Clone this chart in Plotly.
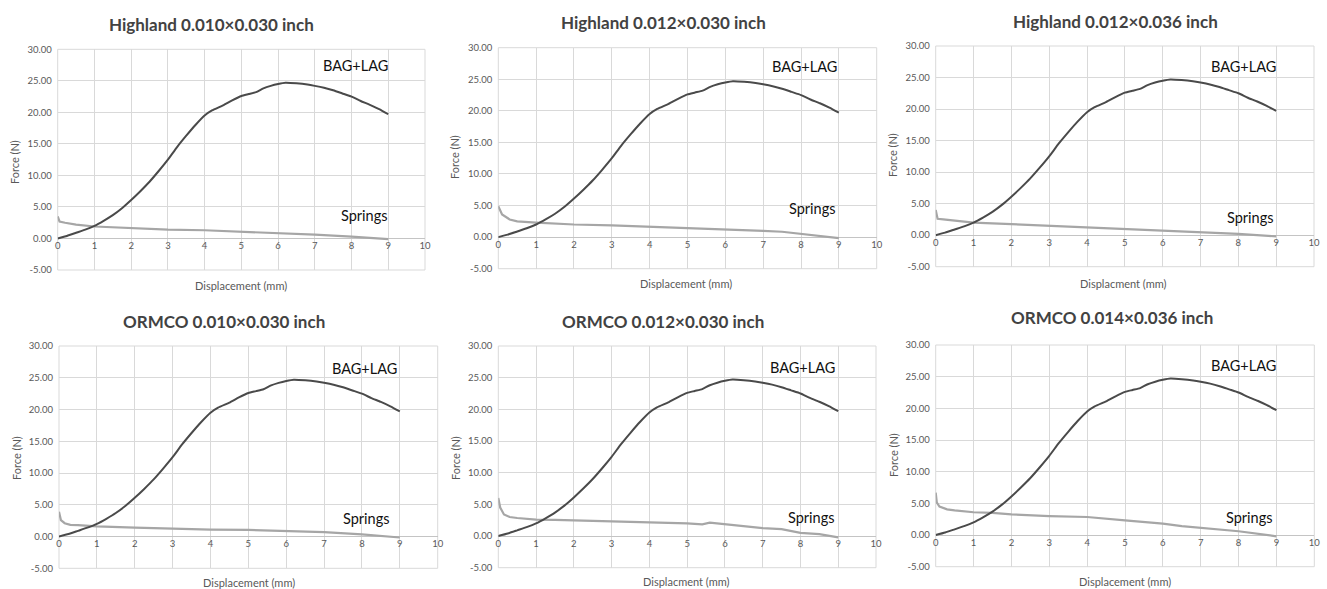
import plotly.graph_objects as go

W, H = 1327, 589

# ---------------- data ----------------
titles = [
    "Highland 0.010×0.030 inch",
    "Highland 0.012×0.030 inch",
    "Highland 0.012×0.036 inch",
    "ORMCO 0.010×0.030 inch",
    "ORMCO 0.012×0.030 inch",
    "ORMCO 0.014×0.036 inch",
]
x_titles = [
    "Displacement (mm)", "Displacement (mm)", "Displacment (mm)",
    "Displacement (mm)", "Displacment (mm)", "Displacement (mm)",
]

bag_x = [0, 0.25, 0.5, 0.75, 1, 1.25, 1.5, 1.75, 2, 2.25, 2.5, 2.75, 3, 3.25, 3.5, 3.75,
         4, 4.2, 4.5, 4.75, 5, 5.2, 5.4, 5.6, 5.8, 6, 6.2, 6.5, 6.8, 7, 7.25, 7.5, 7.75,
         8, 8.25, 8.5, 8.75, 9]
bag_y = [0, 0.4, 0.9, 1.4, 2.0, 2.8, 3.7, 4.8, 6.1, 7.5, 9.0, 10.7, 12.5, 14.5, 16.3, 18.0,
         19.5, 20.3, 21.1, 21.9, 22.6, 22.9, 23.2, 23.8, 24.2, 24.5, 24.7, 24.6, 24.4, 24.2,
         23.9, 23.5, 23.0, 22.5, 21.8, 21.2, 20.5, 19.7]

spr_x = [
    [0, 0.05, 0.2, 0.5, 1, 2, 3, 4, 5, 6, 7, 8, 9],
    [0, 0.1, 0.3, 0.5, 1, 2, 3, 4, 5, 6, 7, 7.5, 8, 8.5, 9],
    [0, 0.05, 0.2, 0.5, 1, 2, 3, 4, 5, 6, 7, 8, 9],
    [0, 0.05, 0.15, 0.3, 0.5, 1, 2, 3, 4, 5, 6, 7, 8, 9],
    [0, 0.05, 0.15, 0.3, 0.5, 1, 1.5, 2, 3, 4, 5, 5.4, 5.6, 6, 6.5, 7, 7.5, 8, 8.5, 9],
    [0, 0.03, 0.1, 0.3, 0.5, 1, 1.5, 2, 3, 4, 5, 5.5, 6, 6.5, 7, 8, 9],
]
spr_y = [
    [3.5, 2.7, 2.5, 2.2, 1.9, 1.6, 1.4, 1.3, 1.1, 0.85, 0.6, 0.3, -0.1],
    [4.9, 3.6, 2.8, 2.5, 2.3, 2.0, 1.85, 1.65, 1.5, 1.3, 1.0, 0.85, 0.5, 0.25, -0.15],
    [4.0, 2.6, 2.5, 2.3, 2.0, 1.75, 1.5, 1.2, 1.0, 0.8, 0.5, 0.2, -0.2],
    [3.9, 2.6, 2.1, 1.85, 1.8, 1.6, 1.4, 1.2, 1.1, 1.05, 0.9, 0.7, 0.35, -0.15],
    [6.0, 4.5, 3.4, 3.0, 2.85, 2.6, 2.55, 2.45, 2.25, 2.15, 2.0, 1.85, 2.1, 1.85, 1.55,
     1.25, 1.1, 0.5, 0.3, -0.2],
    [6.7, 5.1, 4.5, 4.05, 3.9, 3.6, 3.5, 3.25, 3.0, 2.85, 2.3, 2.1, 1.8, 1.4, 1.15, 0.6, -0.2],
]

y_tickvals = [-5, 0, 5, 10, 15, 20, 25, 30]
y_ticktext = ["-5.00", "0.00", "5.00", "10.00", "15.00", "20.00", "25.00", "30.00"]
x_tickvals = list(range(0, 11))

# ---------------- layout geometry (pixels) ----------------
boxes = [
    (57.7, 425.0, 49.3, 270.0),
    (498.3, 876.7, 47.7, 268.7),
    (935.7, 1314.0, 46.0, 266.7),
    (59.0, 437.7, 346.0, 568.3),
    (498.3, 876.0, 346.0, 567.7),
    (935.7, 1314.3, 345.0, 566.7),
]
title_pos = [(212, 25), (663, 22.7), (1115, 21.7), (224, 321.7), (663, 321.7), (1112, 317.3)]
xt_pos = [(241, 285), (686, 283), (1123, 283), (249, 582), (686, 581.5), (1124.5, 581.5)]
yt_pos = [(15, 162), (455, 157), (893, 155), (16, 458), (455, 458), (893, 455)]
bag_lbl = [(8.1, 27.4), (8.1, 27.0), (8.13, 26.7), (8.08, 26.4), (8.06, 26.6), (8.12, 26.7)]
spr_lbl = [(8.35, 3.6), (8.3, 4.5), (8.33, 2.8), (8.12, 2.9), (8.28, 2.9), (8.28, 2.7)]

FONT = "Lato"
GRID = "#d9d9d9"
TICKC = "#595959"

fig = go.Figure()
annotations = []
shapes = []
for i in range(6):
    n = "" if i == 0 else str(i + 1)
    xa, ya = "x" + n, "y" + n
    L, R, T, B = boxes[i]
    xd = [L / W, R / W]
    yd = [1 - B / H, 1 - T / H]
    y0_paper = yd[0] + (0 - (-5)) / 35 * (yd[1] - yd[0])

    fig.add_trace(go.Scatter(x=spr_x[i], y=spr_y[i], mode="lines",
                             line=dict(color="#a6a6a6", width=2.2),
                             xaxis=xa, yaxis=ya, showlegend=False))
    fig.add_trace(go.Scatter(x=bag_x, y=bag_y, mode="lines",
                             line=dict(color="#4a4a4a", width=2, shape="spline", smoothing=0.5),
                             xaxis=xa, yaxis=ya, showlegend=False))

    fig.layout["xaxis" + n] = dict(
        domain=xd, range=[0, 10], tickvals=x_tickvals, anchor="free", position=y0_paper,
        showgrid=True, gridcolor=GRID, gridwidth=1, zeroline=False, showline=False,
        ticks="", tickfont=dict(family=FONT, size=9.5, color=TICKC),
        automargin=False, fixedrange=True,
    )
    fig.layout["yaxis" + n] = dict(
        domain=yd, range=[-5, 30], tickvals=y_tickvals, ticktext=y_ticktext,
        anchor=xa, showgrid=True, gridcolor=GRID, gridwidth=1,
        zeroline=True, zerolinecolor="#c4c4c4", zerolinewidth=1.2, showline=False,
        ticks="", ticklabelstandoff=5, tickfont=dict(family=FONT, size=9.5, color=TICKC),
        automargin=False, fixedrange=True,
    )
    shapes.append(dict(type="rect", xref=xa + " domain", yref=ya + " domain",
                       x0=0, x1=1, y0=0, y1=1, line=dict(color=GRID, width=1),
                       layer="below"))

    tx, ty = title_pos[i]
    annotations.append(dict(text="<b>" + titles[i] + "</b>", xref="paper", yref="paper",
                            x=tx / W, y=1 - ty / H, xanchor="center", yanchor="middle",
                            showarrow=False, font=dict(family=FONT, size=17, color="#424242")))
    ax_, ay_ = xt_pos[i]
    annotations.append(dict(text=x_titles[i], xref="paper", yref="paper",
                            x=ax_ / W, y=1 - ay_ / H, xanchor="center", yanchor="middle",
                            showarrow=False, font=dict(family=FONT, size=11, color=TICKC)))
    fx, fy = yt_pos[i]
    annotations.append(dict(text="Force (N)", xref="paper", yref="paper", textangle=-90,
                            x=fx / W, y=1 - fy / H, xanchor="center", yanchor="middle",
                            showarrow=False, font=dict(family=FONT, size=11, color=TICKC)))
    bx, by = bag_lbl[i]
    annotations.append(dict(text="BAG+LAG", xref=xa, yref=ya, x=bx, y=by,
                            xanchor="center", yanchor="middle", showarrow=False,
                            font=dict(family=FONT, size=14.5, color="#111111")))
    sx, sy = spr_lbl[i]
    annotations.append(dict(text="Springs", xref=xa, yref=ya, x=sx, y=sy,
                            xanchor="center", yanchor="middle", showarrow=False,
                            font=dict(family=FONT, size=14.5, color="#111111")))

fig.update_layout(
    width=W, height=H, margin=dict(l=0, r=0, t=0, b=0, autoexpand=False),
    paper_bgcolor="white", plot_bgcolor="white",
    annotations=annotations, shapes=shapes, showlegend=False,
    font=dict(family=FONT),
)

fig.write_html("out.html",
               config={"displayModeBar": False},
               post_script="document.body.style.margin='0px';document.body.style.overflow='hidden';")
